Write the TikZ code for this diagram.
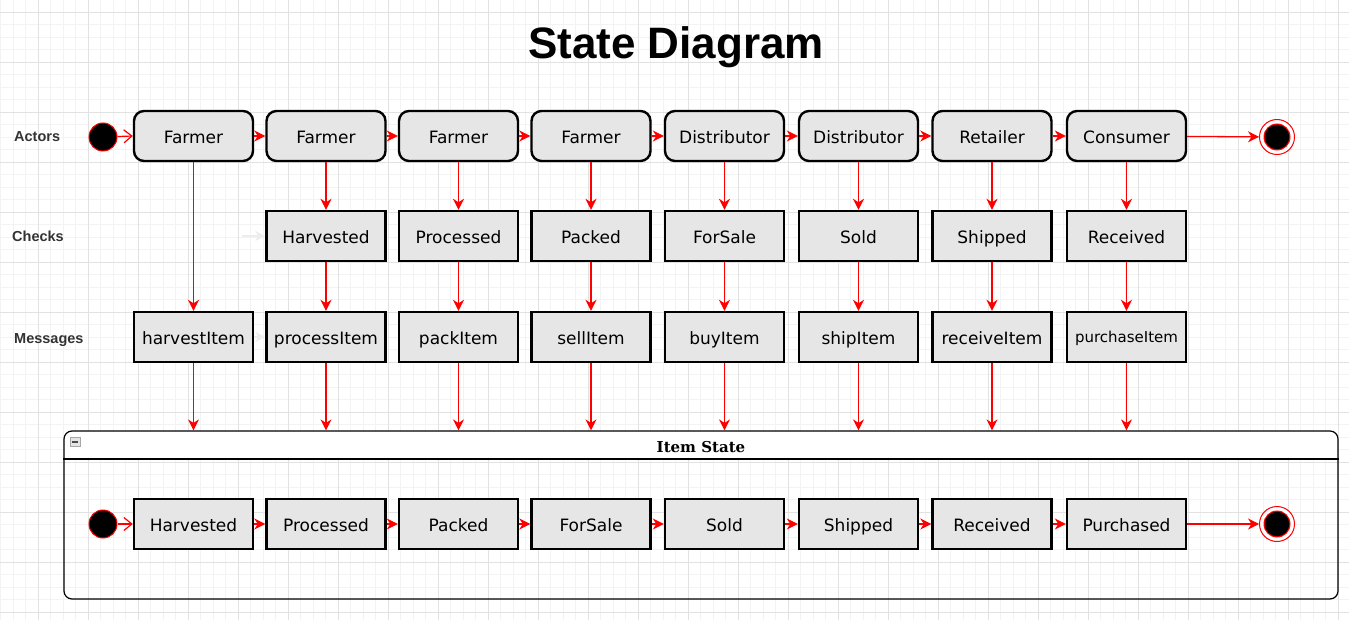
\documentclass[tikz,border=0pt]{standalone}
\usepackage{fontspec}
\setmainfont{DejaVu Sans}
\newfontfamily\lblfont{Liberation Sans}
\newfontfamily\serffont{DejaVu Serif}
\usetikzlibrary{arrows.meta}
\definecolor{boxgray}{HTML}{E6E6E6}
\definecolor{lbl}{HTML}{333333}
\definecolor{gridminor}{HTML}{F3F3F3}
\definecolor{gridmajor}{HTML}{E2E2E2}
\begin{document}
\begin{tikzpicture}[x=1pt,y=-1pt,
 actor/.style={draw=black,line width=2.4pt,fill=boxgray,rounded corners=10pt,minimum width=119pt,minimum height=50pt,inner sep=0pt,text height=16pt,text depth=0.4pt,font=\fontsize{17}{20}\selectfont},
 statebox/.style={actor,sharp corners},
 conn/.style={red,line width=1.3pt,-{Stealth[length=11pt,width=11pt,inset=3.5pt]}},
 startarr/.style={red,line width=1.2pt,-{Straight Barb[length=8pt,width=13pt]}},
 startdot/.style={circle,fill=black,draw=red,line width=1pt,minimum size=28pt,inner sep=0pt},
 enddot/.style={circle,draw=red,line width=1pt,fill=white,minimum size=35pt,inner sep=0pt,
   path picture={\fill[red] (path picture bounding box.center) circle (13.5pt);
                 \fill[black] (path picture bounding box.center) circle (12.3pt);}},
 rowlbl/.style={font=\lblfont\bfseries\fontsize{14.5}{17}\selectfont,text=lbl,anchor=base west,inner sep=0pt},
 faint/.style={black!7,line width=1.2pt,-{Stealth[length=10pt,width=10pt,inset=3pt]}}
]
\useasboundingbox (0,0) rectangle (1349,620);
\fill[white] (0,0) rectangle (1349,620);
% grid
\foreach \i in {0,...,108} \draw[gridminor,line width=0.8pt] ({0.5+12.5*\i},0) -- ({0.5+12.5*\i},620);
\foreach \i in {0,...,50} \draw[gridminor,line width=0.8pt] (0,{-0.5+12.5*\i}) -- (1349,{-0.5+12.5*\i});
\foreach \i in {0,...,27} \draw[gridmajor,line width=0.9pt] ({-12+50*\i},0) -- ({-12+50*\i},620);
\foreach \i in {0,...,12} \draw[gridmajor,line width=0.9pt] (0,{12+50*\i}) -- (1349,{12+50*\i});

% container header background
\begin{scope}
\clip (0,0) rectangle (1349,459);
\fill[white,rounded corners=8pt] (64,431) rectangle (1338,490);
\end{scope}
\node[draw=black,line width=1.2pt,rounded corners=8pt,minimum width=1274pt,minimum height=168pt,inner sep=0pt] (cont) at (701,515) {};
\draw[black,line width=1.1pt] (cont.west |- 0,459) -- (cont.east |- 0,459);
\node[draw=gray!70,fill=gray!20,minimum width=10pt,minimum height=9pt,inner sep=0pt] (icon) at (75,442) {};
\draw[black!70,line width=1.2pt] ([xshift=2.5pt]icon.west) -- ([xshift=-2.5pt]icon.east);
\node[font=\serffont\bfseries\fontsize{15}{18}\selectfont,inner sep=0pt] (itemstate) at (701,447) {Item State};

% title and row labels
\node[font=\lblfont\bfseries\fontsize{44}{50}\selectfont,inner sep=0pt] (title) at (676,47) {State Diagram};
\node[rowlbl] (lact) at (14,142) {Actors};
\node[rowlbl] (lchk) at (12,242) {Checks};
\node[rowlbl] (lmsg) at (14,343) {Messages};

% actors row
\node[startdot] (start0) at (103,137) {};
\node[actor] (a1) at (193.5,136) {Farmer};
\node[actor] (a2) at (326,136) {Farmer};
\node[actor] (a3) at (458.5,136) {Farmer};
\node[actor] (a4) at (591,136) {Farmer};
\node[actor] (a5) at (724.5,136) {Distributor};
\node[actor] (a6) at (858.5,136) {Distributor};
\node[actor] (a7) at (992,136) {Retailer};
\node[actor] (a8) at (1126.5,136) {Consumer};
\node[enddot] (end0) at (1277,137) {};

% checks row
\node[statebox] (k2) at (326,236) {Harvested};
\node[statebox] (k3) at (458.5,236) {Processed};
\node[statebox] (k4) at (591,236) {Packed};
\node[statebox] (k5) at (724.5,236) {ForSale};
\node[statebox] (k6) at (858.5,236) {Sold};
\node[statebox] (k7) at (992,236) {Shipped};
\node[statebox] (k8) at (1126.5,236) {Received};

% messages row
\node[statebox] (m1) at (193.5,337) {harvestItem};
\node[statebox] (m2) at (326,337) {processItem};
\node[statebox] (m3) at (458.5,337) {packItem};
\node[statebox] (m4) at (591,337) {sellItem};
\node[statebox] (m5) at (724.5,337) {buyItem};
\node[statebox] (m6) at (858.5,337) {shipItem};
\node[statebox] (m7) at (992,337) {receiveItem};
\node[statebox,font=\fontsize{15}{18}\selectfont,text height=11.4pt,text depth=0pt] (m8) at (1126.5,337) {purchaseItem};

% item state row
\node[startdot] (start1) at (103,524) {};
\node[statebox] (s1) at (193.5,524) {Harvested};
\node[statebox] (s2) at (326,524) {Processed};
\node[statebox] (s3) at (458.5,524) {Packed};
\node[statebox] (s4) at (591,524) {ForSale};
\node[statebox] (s5) at (724.5,524) {Sold};
\node[statebox] (s6) at (858.5,524) {Shipped};
\node[statebox] (s7) at (992,524) {Received};
\node[statebox] (s8) at (1126.5,524) {Purchased};
\node[enddot] (end1) at (1277,524) {};

% faint connectors
\coordinate (fk) at (242,236);
\draw[faint] (fk) -- (k2.west);
\draw[faint] (m1.east) -- (m2.west);

% horizontal connectors
\draw[startarr] (start0) -- (a1.west);
\draw[startarr] (start1) -- (s1.west);
\foreach \p/\q in {a1/a2,a2/a3,a3/a4,a4/a5,a5/a6,a6/a7,a7/a8,a8/end0,
                   s1/s2,s2/s3,s3/s4,s4/s5,s5/s6,s6/s7,s7/s8,s8/end1}
  \draw[conn] (\p) -- (\q);

% vertical connectors
\draw[conn] (a1.south) -- (m1.north);
\foreach \i in {2,...,8} {
  \draw[conn] (a\i.south) -- (k\i.north);
  \draw[conn] (k\i.south) -- (m\i.north);
}
\foreach \i in {1,...,8}
  \draw[conn] (m\i.south) -- (m\i.south |- cont.north);
\end{tikzpicture}
\end{document}
